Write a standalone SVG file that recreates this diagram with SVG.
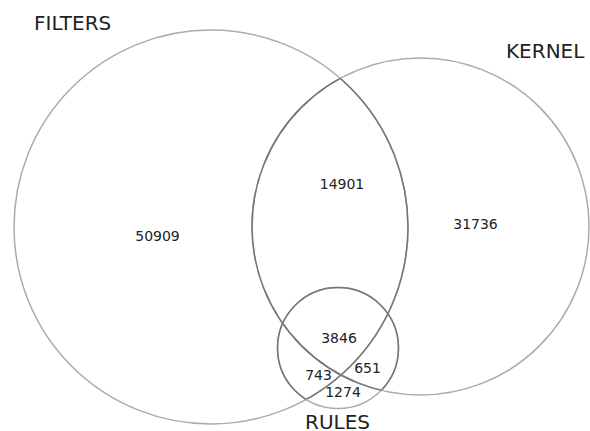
<svg xmlns="http://www.w3.org/2000/svg" width="590" height="431" viewBox="0 0 590 431">
<style>
.c{fill:none;stroke:#ababab;stroke-width:1.5}
.d{fill:none;stroke:#767676;stroke-width:1.5}
.lbl{font-family:"DejaVu Sans",sans-serif;font-size:20px;fill:#222}
.num{font-family:"DejaVu Sans",sans-serif;font-size:14px;fill:#222;text-anchor:middle}
</style>
<defs>
<clipPath id="notF"><circle cx="420.5" cy="226.5" r="168.5"/><circle cx="338" cy="348" r="60.5"/></clipPath>
<clipPath id="notK"><circle cx="211" cy="227" r="197"/><circle cx="338" cy="348" r="60.5"/></clipPath>
<clipPath id="notR"><circle cx="211" cy="227" r="197"/><circle cx="420.5" cy="226.5" r="168.5"/></clipPath>
</defs>
<g id="filters">
<circle class="c" cx="211" cy="227" r="197"/>
<circle class="d" cx="211" cy="227" r="197" clip-path="url(#notF)"/>
<text class="lbl" x="34" y="30">FILTERS</text>
</g>
<g id="kernel">
<circle class="c" cx="420.5" cy="226.5" r="168.5"/>
<circle class="d" cx="420.5" cy="226.5" r="168.5" clip-path="url(#notK)"/>
<text class="lbl" x="506" y="58">KERNEL</text>
</g>
<g id="rules">
<circle class="c" cx="338" cy="348" r="60.5"/>
<circle class="d" cx="338" cy="348" r="60.5" clip-path="url(#notR)"/>
<text class="lbl" x="305" y="429">RULES</text>
</g>
<g id="counts">
<text class="num" x="157.5" y="241">50909</text>
<text class="num" x="342" y="188.5">14901</text>
<text class="num" x="475.5" y="229">31736</text>
<text class="num" x="339" y="342.5">3846</text>
<text class="num" x="318.5" y="380">743</text>
<text class="num" x="367.5" y="373">651</text>
<text class="num" x="343" y="396.5">1274</text>
</g>
</svg>
